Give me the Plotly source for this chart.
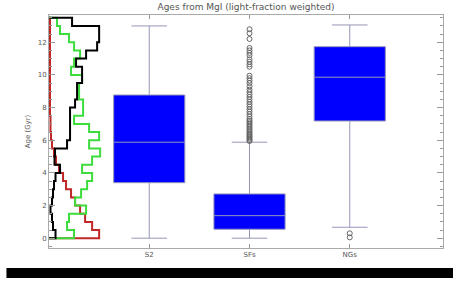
import numpy as np
import plotly.graph_objects as go

# ---- data ----
categories = ["S2", "SFs", "NGs"]
cat_pos = [1, 2, 3]
q1 = [3.40, 0.55, 7.18]
median = [5.88, 1.38, 9.86]
q3 = [8.77, 2.71, 11.73]
lowerfence = [0.0, 0.0, 0.67]
upperfence = [13.0, 5.88, 13.06]

sfs_outliers = [5.95, 6.02, 6.1, 6.18, 6.25, 6.33, 6.4, 6.5, 6.6, 6.7, 6.8, 6.9, 7.0,
                7.1, 7.2, 7.3, 7.45, 7.6, 7.75, 7.9, 8.05, 8.2, 8.35, 8.5, 8.65, 8.8,
                8.95, 9.1, 9.3, 9.5, 9.65, 9.8, 9.95, 10.5, 10.65, 10.8, 10.95, 11.2,
                11.35, 11.5, 11.65, 12.2, 12.55, 12.8]
ngs_outliers = [0.05, 0.3]

bin_edges = [i * 0.5 for i in range(28)]
hist_black = [0.065, 0.04, 0.03, 0.015, 0.03, 0.04, 0.05, 0.065, 0.11, 0.055, 0.06, 0.18,
              0.21, 0.21, 0.21, 0.21, 0.26, 0.28, 0.28, 0.33, 0.33, 0.27, 0.37, 0.48,
              0.50, 0.50, 0.23]
hist_green = [0.25, 0.18, 0.20, 0.37, 0.26, 0.32, 0.38, 0.43, 0.33, 0.43, 0.51, 0.40,
              0.50, 0.40, 0.25, 0.34, 0.34, 0.30, 0.30, 0.33, 0.22, 0.25, 0.31, 0.25,
              0.20, 0.11, 0.08]
hist_red = [0.50, 0.43, 0.36, 0.31, 0.26, 0.22, 0.17, 0.14, 0.10, 0.07, 0.05, 0.03,
            0.02, 0.015, 0.015, 0.01, 0.01, 0.01, 0.01, 0.01, 0.01, 0.01, 0.01, 0.01,
            0.01, 0.01, 0.01]

yticks = [0, 2, 4, 6, 8, 10, 12]

fig = go.Figure()

# step histograms (horizontal)
def step_path(vals, edges):
    xs = [0] + list(vals) + [0]
    ys = [edges[0]] + list(edges[:-1]) + [edges[-1]]
    return xs, ys

for vals, col in [(hist_red, "#c02828"), (hist_green, "#3ddc3d"), (hist_black, "#000000")]:
    xs, ys = step_path(vals, bin_edges)
    fig.add_trace(go.Scatter(x=xs, y=ys, mode="lines", line=dict(color=col, width=2, shape="vh"),
                             showlegend=False, hoverinfo="skip"))

# boxes
for i in range(3):
    fig.add_trace(go.Box(x=[cat_pos[i]], q1=[q1[i]], median=[median[i]], q3=[q3[i]],
                         lowerfence=[lowerfence[i]], upperfence=[upperfence[i]],
                         width=0.71, whiskerwidth=0.5, fillcolor="#0000ff",
                         line=dict(color="rgb(150,150,185)", width=1),
                         boxpoints=False, showlegend=False))

# outliers
fig.add_trace(go.Scatter(x=[cat_pos[1]] * len(sfs_outliers), y=sfs_outliers, mode="markers",
                         marker=dict(symbol="circle-open", size=5, color="#666",
                                     line=dict(width=1)),
                         showlegend=False))
fig.add_trace(go.Scatter(x=[cat_pos[2]] * len(ngs_outliers), y=ngs_outliers, mode="markers",
                         marker=dict(symbol="circle-open", size=5, color="#666",
                                     line=dict(width=1)),
                         showlegend=False))

fig.add_shape(type="rect", xref="paper", yref="paper", x0=-0.108, x1=1.03, y0=-0.129, y1=-0.086,
              fillcolor="black", line=dict(width=0))

fig.update_layout(
    width=453, height=282,
    margin=dict(l=49, r=10, t=15, b=34),
    paper_bgcolor="white", plot_bgcolor="white",
    font=dict(family="DejaVu Sans", size=8, color="#555"),
    title=dict(text="Ages from MgI (light-fraction weighted)", x=0.5, xref="paper",
               y=1 - 7 / 282, yref="container", yanchor="middle",
               font=dict(size=9, color="#555")),
    xaxis=dict(range=[0, 3.93], tickvals=cat_pos, ticktext=categories, ticks="inside",
               ticklen=4, tickcolor="#999", showline=True, linecolor="#aaa", mirror="allticks",
               showgrid=False, zeroline=False, tickfont=dict(size=7, color="#555"),
               automargin=False),
    yaxis=dict(range=[-0.6, 13.67], tickvals=yticks, ticks="inside", ticklen=6,
               tickcolor="#999", showline=True, linecolor="#aaa", mirror="allticks",
               showgrid=False, zeroline=False, tickfont=dict(size=7, color="#555"),
               minor=dict(dtick=0.5, ticks="inside", ticklen=3, tickcolor="#999"),
               title=dict(text="Age (Gyr)", font=dict(size=7, color="#555"), standoff=6),
               automargin=False),
)

fig.write_html("out.html", config={"displayModeBar": False},
               post_script="document.body.style.margin='0';")
